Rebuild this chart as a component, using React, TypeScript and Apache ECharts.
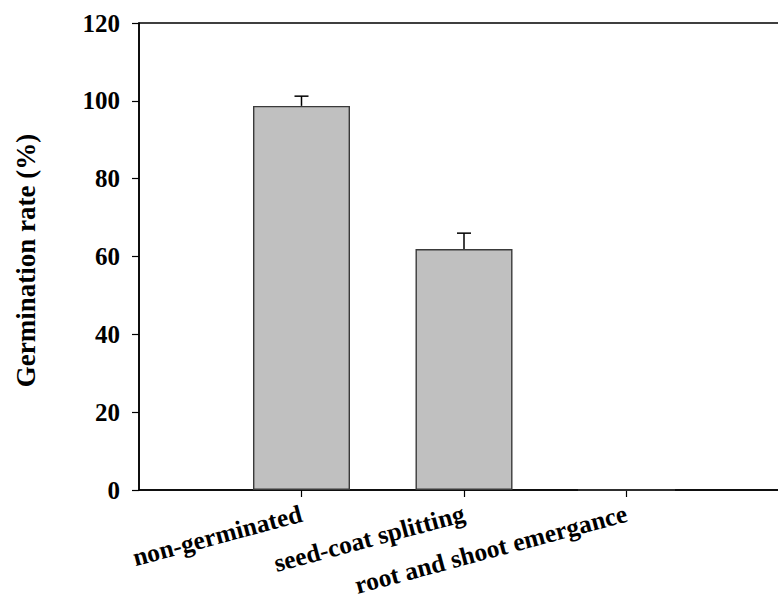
import React, { useEffect, useRef } from "react";
import * as echarts from "echarts";

const categories = ["", "non-germinated", "seed-coat splitting", "root and shoot emergance", ""];
const values: (number | string)[] = ["-", 98.7, 61.9, 0, "-"];
const errors: (number | null)[] = [null, 2.5, 4.1, null, null];
const yMin = 0;
const yMax = 120;
const yInterval = 20;

const FONT = '"Liberation Serif", "Times New Roman", serif';

export default function App() {
  const ref = useRef<HTMLDivElement>(null);
  useEffect(() => {
    if (!ref.current) return;
    const chart = echarts.init(ref.current, undefined, { renderer: "svg" });
    const errData = categories
      .map((_, i) => (errors[i] != null && typeof values[i] === "number" ? [i, values[i] as number, (values[i] as number) + (errors[i] as number)] : null))
      .filter((d) => d != null);
    chart.setOption({
      animation: false,
      backgroundColor: "#ffffff",
      grid: {
        left: 139,
        top: 23,
        width: 650,
        height: 467,
        show: true,
        borderColor: "#000",
        borderWidth: 1.5,
        backgroundColor: "transparent",
        outerBoundsMode: "none",
        containLabel: false,
      },
      xAxis: {
        type: "category",
        data: categories,
        boundaryGap: false,
        axisLine: { lineStyle: { color: "#000", width: 1.5 } },
        axisTick: {
          show: true,
          length: 7,
          lineStyle: { color: "#000", width: 1.2 },
          interval: (index: number) => index >= 1 && index <= 3,
        },
        axisLabel: {
          interval: 0,
          rotate: 15,
          margin: 23,
          color: "#000",
          fontFamily: FONT,
          fontWeight: "bold",
          fontSize: 25.5,
        },
        splitLine: { show: false },
      },
      yAxis: {
        type: "value",
        min: yMin,
        max: yMax,
        interval: yInterval,
        name: "Germination rate (%)",
        nameLocation: "middle",
        nameRotate: 90,
        nameGap: 100,
        nameTextStyle: {
          color: "#000",
          fontFamily: FONT,
          fontWeight: "bold",
          fontSize: 27,
          padding: [0, 8, 0, 0],
        },
        axisLine: { show: true, lineStyle: { color: "#000", width: 1.5 } },
        axisTick: { show: true, length: 7, lineStyle: { color: "#000", width: 1.2 } },
        axisLabel: {
          margin: 19,
          color: "#000",
          fontFamily: FONT,
          fontWeight: "bold",
          fontSize: 25,
        },
        splitLine: { show: false },
      },
      series: [
        {
          type: "bar",
          data: values,
          barWidth: 97,
          itemStyle: { color: "#c0c0c0", borderColor: "#3a3a3a", borderWidth: 1.4 },
          z: 2,
        },
        {
          type: "custom",
          data: errData,
          z: 3,
          renderItem: (params: any, api: any) => {
            const x = api.value(0);
            const low = api.coord([x, api.value(1)]);
            const high = api.coord([x, api.value(2)]);
            const half = 7;
            const style = { stroke: "#000", lineWidth: 1.5 };
            return {
              type: "group",
              children: [
                { type: "line", shape: { x1: low[0], y1: low[1], x2: high[0], y2: high[1] }, style },
                { type: "line", shape: { x1: high[0] - half, y1: high[1], x2: high[0] + half, y2: high[1] }, style },
              ],
            };
          },
        },
      ],
    });
    return () => chart.dispose();
  }, []);
  return (
    <div
      ref={ref}
      style={{ position: "fixed", left: 0, top: 0, width: 778, height: 598, background: "#fff" }}
    />
  );
}
